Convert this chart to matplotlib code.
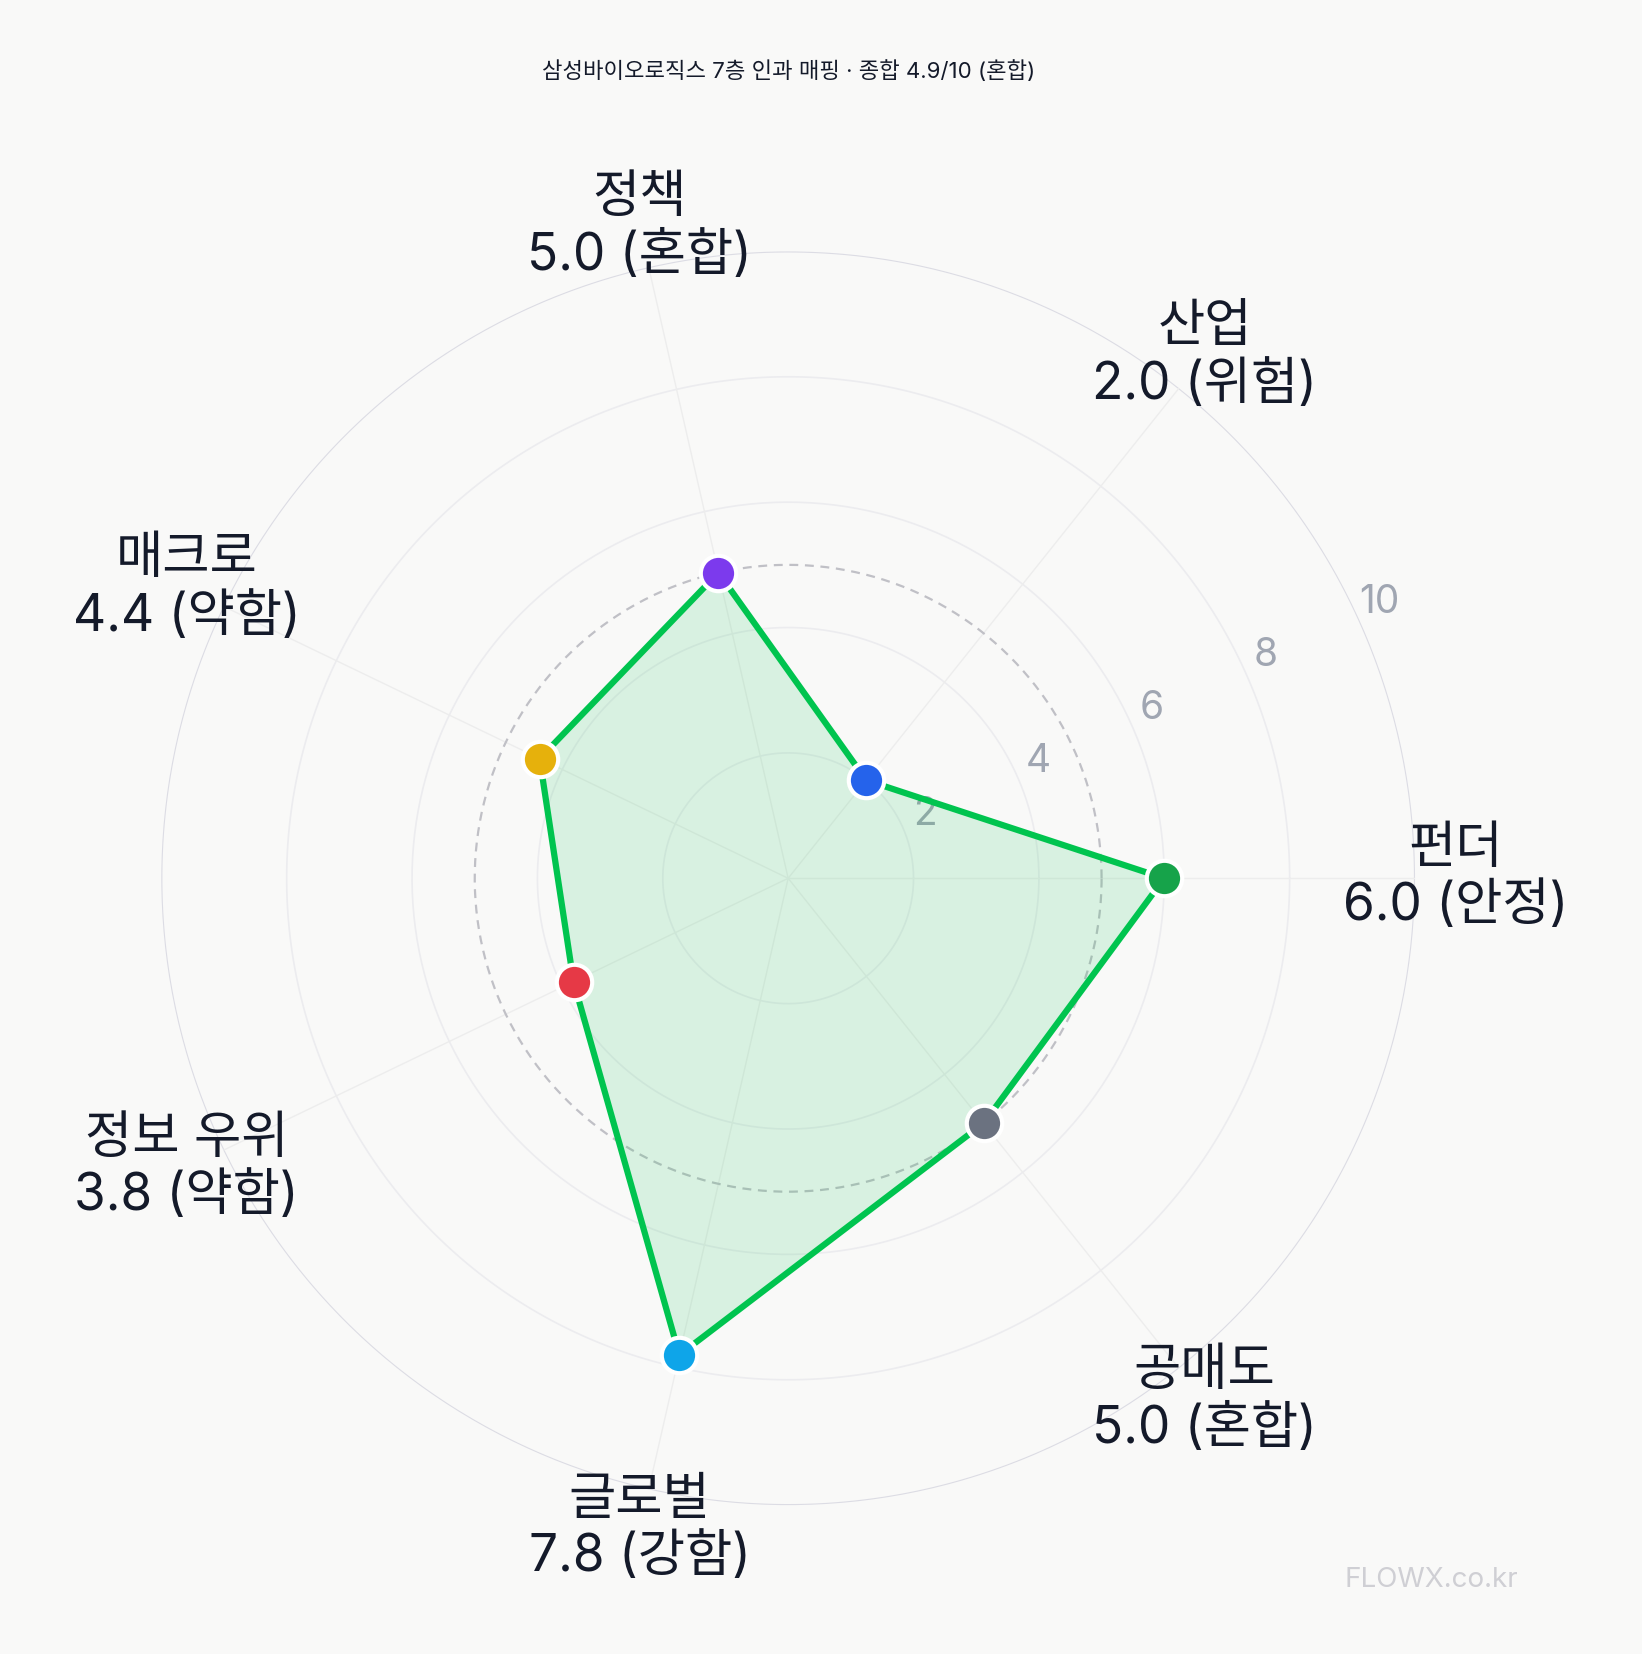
import numpy as np
import matplotlib
matplotlib.use("Agg")
import matplotlib.pyplot as plt

plt.rcParams['font.family'] = ['Inter', 'Noto Sans CJK KR', 'DejaVu Sans']

categories = ['펀더', '산업', '정책', '매크로', '정보 우위', '글로벌', '공매도']
values = [6.0, 2.0, 5.0, 4.4, 3.8, 7.8, 5.0]
verdicts = ['안정', '위험', '혼합', '약함', '약함', '강함', '혼합']
point_colors = ['#16a34a', '#2563eb', '#7c3aed', '#e6b10c', '#e63946', '#0ea5e9', '#6b7280']
ticks = [2, 4, 6, 8, 10]
title = '삼성바이오로직스 7층 인과 매핑 · 종합 4.9/10 (혼합)'

bg = '#f9f9f8'
fig = plt.figure(figsize=(16.42, 16.54), dpi=100, facecolor=bg)
ax = fig.add_axes([0.098, 0.090, 0.764, 0.758], projection='polar', facecolor=bg)

n = len(categories)
ang = np.arange(n) * 2 * np.pi / n
ax.set_ylim(0, 10)
ax.set_xticks([]); ax.set_yticks([])
ax.spines['polar'].set_visible(False)
ax.grid(False)

th = np.linspace(0, 2 * np.pi, 400)
for t in ticks:
    ax.plot(th, [t] * len(th), color='#ececef' if t < 10 else '#dcdce4', lw=1.2 if t < 10 else 1.6, zorder=1)
for a in ang:
    ax.plot([a, a], [0, 10], color='#ededed', lw=1, zorder=1)
ax.plot(th, [5] * len(th), color='#c0c0c6', lw=1.6, ls=(0, (4, 3)), zorder=2)

tick_ang = np.deg2rad(25)
for t in ticks:
    ax.text(tick_ang, t + 0.4, str(t), color='#a0a6b2', fontsize=28, ha='center', va='center', zorder=3)

ca = np.append(ang, ang[0]); cv = values + [values[0]]
ax.fill(ca, cv, color='#22c55e', alpha=0.15, zorder=4)
ax.plot(ca, cv, color='#00c44f', lw=4.5, zorder=5)
for a, v, c in zip(ang, values, point_colors):
    ax.scatter([a], [v], s=650, color=c, edgecolor='white', linewidth=3, zorder=6)

for a, cat, v, vd in zip(ang, categories, values, verdicts):
    ax.text(a, 10.65, f'{cat}\n{v:.1f} ({vd})', fontsize=37, color='#141a2a', ha='center', va='center',
            linespacing=1.2, zorder=7)

fig.text(0.48, 0.957, title, fontsize=16, color='#141a2a', ha='center', va='center')
fig.text(0.872, 0.045, 'FLOWX.co.kr', fontsize=20, color='#cfcfd4', ha='center', va='center')

fig.savefig('out.png', dpi=100, facecolor=bg)
